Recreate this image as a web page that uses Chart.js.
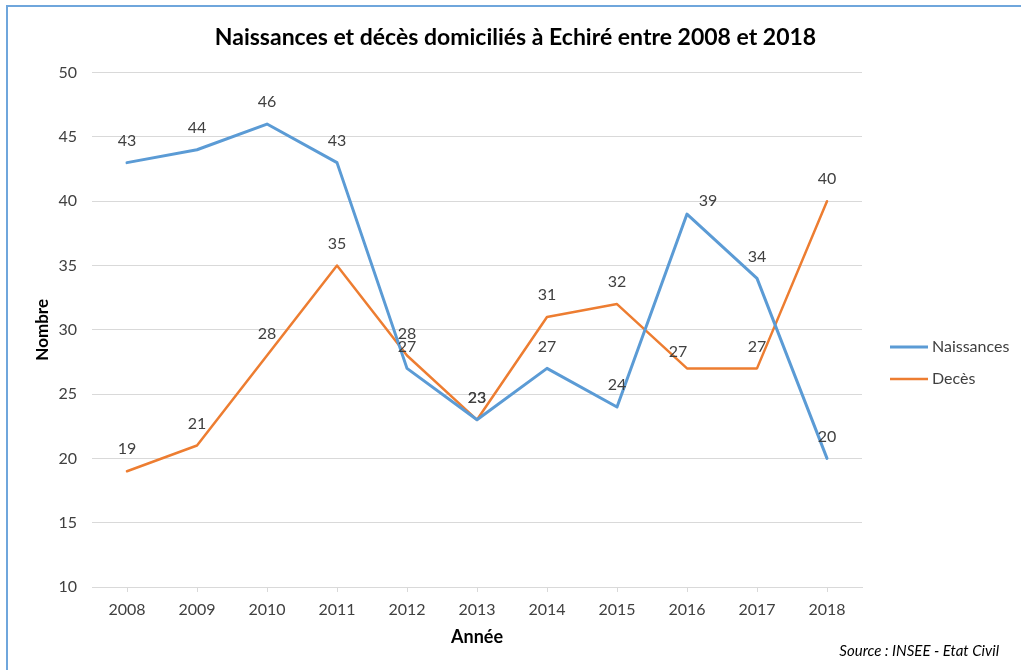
<!DOCTYPE html>
<html>
<head>
<meta charset="utf-8">
<script src="https://cdn.jsdelivr.net/npm/chart.js@4"></script>
<style>
  body { margin: 0; background: #fff; }
  #wrap { position: relative; width: 1021px; height: 670px; }
</style>
</head>
<body>
<div id="wrap"><canvas id="chart"></canvas></div>
<script>
const years = ['2008', '2009', '2010', '2011', '2012', '2013', '2014', '2015', '2016', '2017', '2018'];
const naissances = [43, 44, 46, 43, 27, 23, 27, 24, 39, 34, 20];
const deces = [19, 21, 28, 35, 28, 23, 31, 32, 27, 27, 40];
const yTicks = [10, 15, 20, 25, 30, 35, 40, 45, 50];

const FONT = 'Lato, "Open Sans", sans-serif';
const TEXT = '#404040';

// a few labels were nudged aside in the original so they don't sit on the line
const labelNudge = {
    '0-8': [21, 9],
    '1-8': [-9, 5]
};

const pageDecor = {
    id: 'pageDecor',
    beforeDraw(chart) {
        const ctx = chart.ctx;
        ctx.save();
        ctx.fillStyle = '#fff';
        ctx.fillRect(0, 0, chart.width, chart.height);
        ctx.strokeStyle = '#6fa6dc';
        ctx.lineWidth = 2;
        ctx.beginPath();
        ctx.moveTo(7, chart.height);
        ctx.lineTo(7, 6);
        ctx.lineTo(chart.width, 6);
        ctx.stroke();
        ctx.restore();
    },
    afterDraw(chart) {
        const ctx = chart.ctx;
        ctx.save();
        // legend
        ctx.font = '16px ' + FONT;
        ctx.textBaseline = 'middle';
        ctx.textAlign = 'left';
        chart.data.datasets.forEach((ds, i) => {
            const y = 347 + i * 32;
            ctx.strokeStyle = ds.borderColor;
            ctx.lineWidth = ds.borderWidth;
            ctx.beginPath();
            ctx.moveTo(890, y);
            ctx.lineTo(928, y);
            ctx.stroke();
            ctx.fillStyle = TEXT;
            ctx.fillText(ds.label, 932, y);
        });
        // source
        ctx.font = 'italic 15px ' + FONT;
        ctx.textAlign = 'right';
        ctx.fillStyle = '#000';
        ctx.fillText('Source : INSEE - Etat Civil', 999, 651);
        ctx.restore();
    }
};

const pointLabels = {
    id: 'pointLabels',
    afterDatasetsDraw(chart) {
        const ctx = chart.ctx;
        ctx.save();
        ctx.font = '16px ' + FONT;
        ctx.fillStyle = TEXT;
        ctx.textAlign = 'center';
        ctx.textBaseline = 'middle';
        chart.data.datasets.forEach((ds, di) => {
            chart.getDatasetMeta(di).data.forEach((pt, i) => {
                const nudge = labelNudge[di + '-' + i] || [0, 0];
                ctx.fillText(ds.data[i], pt.x + nudge[0], pt.y - 22 + nudge[1]);
            });
        });
        ctx.restore();
    }
};

new Chart(document.getElementById('chart'), {
    type: 'line',
    data: {
        labels: years,
        datasets: [
            {
                label: 'Naissances',
                data: naissances,
                borderColor: '#5b9bd5',
                borderWidth: 3
            },
            {
                label: 'Decès',
                data: deces,
                borderColor: '#ed7d31',
                borderWidth: 2.5
            }
        ]
    },
    options: {
        responsive: true,
        maintainAspectRatio: false,
        animation: false,
        layout: { padding: { left: 10, right: 0, top: 0, bottom: 22 } },
        elements: {
            line: { tension: 0, borderJoinStyle: 'round', borderCapStyle: 'round' },
            point: { radius: 0, hoverRadius: 0 }
        },
        plugins: {
            legend: { display: false },
            tooltip: { enabled: false },
            title: {
                display: true,
                text: 'Naissances et décès domiciliés à Echiré entre 2008 et 2018',
                color: '#000',
                font: { family: FONT, size: 23, weight: 'bold' },
                padding: { top: 24, bottom: 21 }
            }
        },
        scales: {
            x: {
                offset: true,
                afterFit(scale) { scale.height = 61; },
                grid: { drawOnChartArea: false, offset: false, color: '#d9d9d9', tickLength: 5 },
                border: { color: '#d9d9d9' },
                ticks: { color: TEXT, font: { family: FONT, size: 16 }, padding: 8, maxRotation: 0 },
                title: {
                    display: true,
                    text: 'Année',
                    color: '#000',
                    font: { family: FONT, size: 18, weight: 'bold' },
                    padding: { top: 7, bottom: 0 }
                }
            },
            y: {
                min: 10,
                max: 50,
                afterFit(scale) { scale.width = 82; },
                afterBuildTicks(scale) { scale.ticks = yTicks.map(v => ({ value: v })); },
                grid: { color: '#d9d9d9', drawTicks: false },
                border: { display: false },
                ticks: { color: TEXT, font: { family: FONT, size: 16 }, padding: 15 },
                title: {
                    display: true,
                    text: 'Nombre',
                    color: '#000',
                    font: { family: FONT, size: 17, weight: 'bold' },
                    padding: { top: 22, bottom: 0 }
                }
            },
            // empty right-hand axis keeps room for the legend, so the title stays centred on the page
            side: {
                axis: 'y',
                position: 'right',
                afterFit(scale) { scale.width = 159; },
                grid: { display: false },
                border: { display: false },
                ticks: { display: false }
            }
        }
    },
    plugins: [pageDecor, pointLabels]
});
</script>
</body>
</html>
